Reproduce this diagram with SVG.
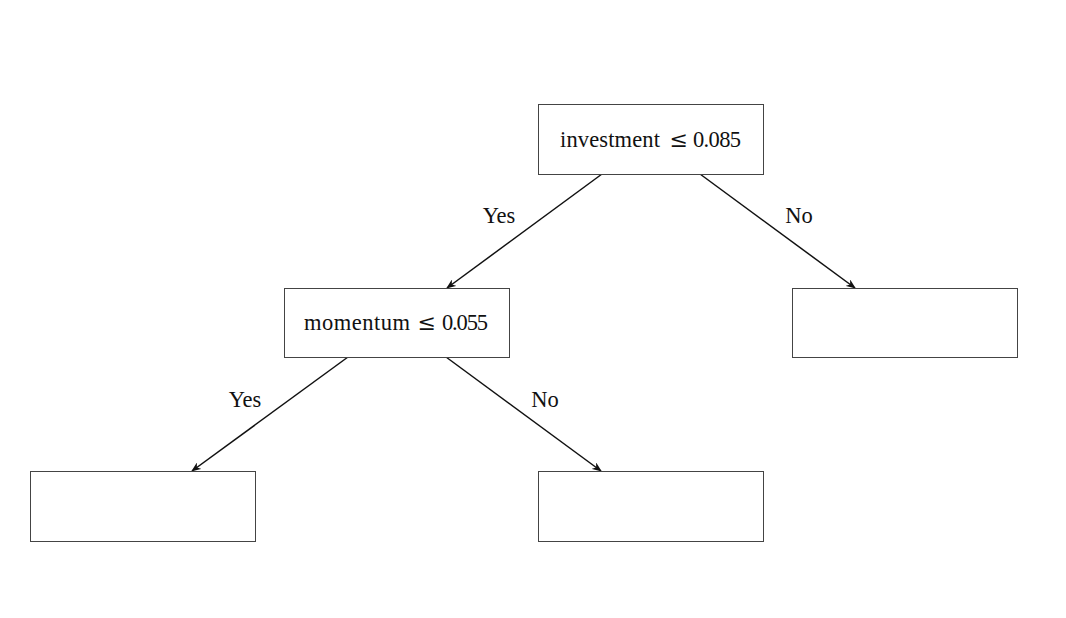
<svg xmlns="http://www.w3.org/2000/svg" width="1066" height="618" viewBox="0 0 1066 618">
<style>
.box{fill:#fff;stroke:#444;stroke-width:1}
.t{font-family:"Liberation Serif","DejaVu Serif",serif;font-size:22.5px;fill:#111}
.c{text-anchor:middle}
.le{font-family:"DejaVu Serif",serif;font-size:22px}
.e{stroke:#111;stroke-width:1.5;fill:none;marker-end:url(#ah)}
</style>
<defs>
<marker id="ah" markerWidth="10" markerHeight="8" refX="9" refY="4" orient="auto" markerUnits="userSpaceOnUse">
<path d="M0,0 L10,4 L0,8 L3,4 Z" fill="#111"/>
</marker>
</defs>
<rect width="1066" height="618" fill="#fff"/>
<g id="connectors">
<line class="e" x1="602" y1="174" x2="447" y2="288"/>
<line class="e" x1="700" y1="174" x2="855" y2="288"/>
<line class="e" x1="348" y1="357" x2="192" y2="471"/>
<line class="e" x1="446" y1="357" x2="601" y2="471"/>
<text class="t c" x="499" y="223">Yes</text>
<text class="t c" x="799" y="223">No</text>
<text class="t c" x="245" y="407">Yes</text>
<text class="t c" x="545" y="407">No</text>
</g>
<g id="root">
<rect class="box" x="538.5" y="104.5" width="225" height="70"/>
<text class="t" y="147"><tspan x="560" textLength="100">investment</tspan><tspan x="669.5" class="le">≤</tspan><tspan x="693" textLength="48">0.085</tspan></text>
</g>
<g id="momentum">
<rect class="box" x="284.5" y="288.5" width="225" height="69"/>
<text class="t" y="330"><tspan x="304" textLength="106">momentum</tspan><tspan x="417.5" class="le">≤</tspan><tspan x="442" textLength="46">0.055</tspan></text>
</g>
<g id="right">
<rect class="box" x="792.5" y="288.5" width="225" height="69"/>
</g>
<g id="leftleaf">
<rect class="box" x="30.5" y="471.5" width="225" height="70"/>
</g>
<g id="midleaf">
<rect class="box" x="538.5" y="471.5" width="225" height="70"/>
</g>
</svg>
